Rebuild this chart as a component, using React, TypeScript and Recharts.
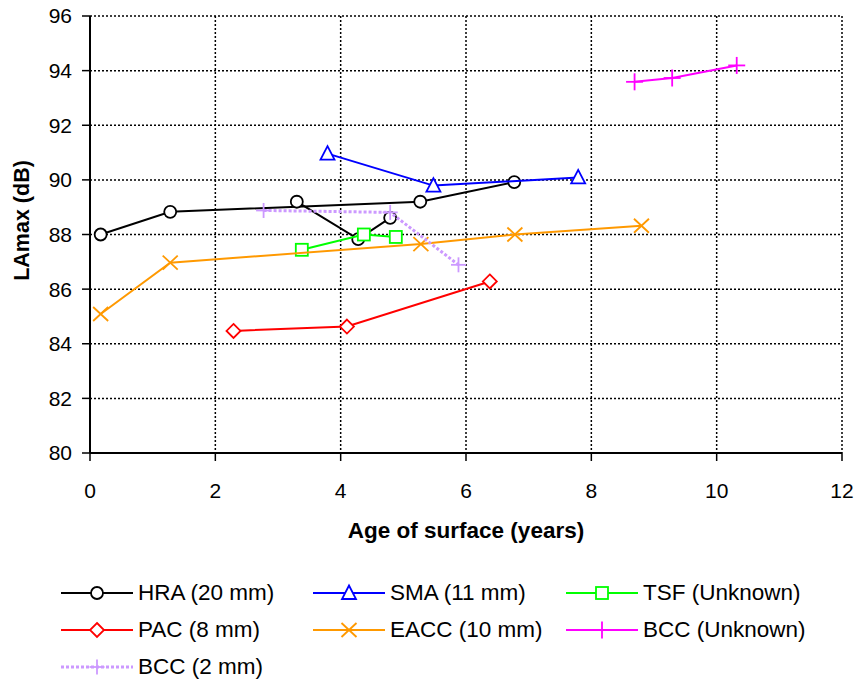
import React from 'react';
import { ScatterChart, Scatter, XAxis, YAxis, CartesianGrid } from 'recharts';

const xTicks = [0, 2, 4, 6, 8, 10, 12];
const yTicks = [80, 82, 84, 86, 88, 90, 92, 94, 96];

const hraMain = [
  { x: 0.17, y: 88.0 },
  { x: 1.28, y: 88.83 },
  { x: 5.27, y: 89.2 },
  { x: 6.77, y: 89.92 },
];
const hraBranch = [
  { x: 3.3, y: 89.2 },
  { x: 4.28, y: 87.83 },
  { x: 4.79, y: 88.61 },
];
const sma = [
  { x: 3.79, y: 90.96 },
  { x: 5.48, y: 89.79 },
  { x: 7.79, y: 90.09 },
];
const tsf = [
  { x: 3.38, y: 87.44 },
  { x: 4.37, y: 88.0 },
  { x: 4.88, y: 87.91 },
];
const pac = [
  { x: 2.29, y: 84.47 },
  { x: 4.1, y: 84.63 },
  { x: 6.38, y: 86.28 },
];
const eacc = [
  { x: 0.17, y: 85.09 },
  { x: 1.28, y: 86.97 },
  { x: 5.28, y: 87.65 },
  { x: 6.78, y: 88.0 },
  { x: 8.8, y: 88.32 },
];
const bccUnknown = [
  { x: 8.69, y: 93.59 },
  { x: 9.29, y: 93.73 },
  { x: 10.32, y: 94.19 },
];
const bcc2mm = [
  { x: 2.77, y: 88.88 },
  { x: 4.79, y: 88.81 },
  { x: 5.88, y: 86.89 },
];

const FONT = '"Liberation Sans", Arial, sans-serif';

const C_HRA = '#000000';
const C_SMA = '#0000FF';
const C_TSF = '#00FF00';
const C_PAC = '#FF0000';
const C_EACC = '#FF9900';
const C_BCC = '#FF00FF';
const C_BCC2 = '#CC99FF';

type Mk = (cx: number, cy: number) => React.ReactElement;

const circleMk = (color: string): Mk => (cx, cy) => (
  <circle cx={cx} cy={cy} r={6} fill="#fff" stroke={color} strokeWidth={1.8} />
);
const triMk = (color: string): Mk => (cx, cy) => (
  <polygon
    points={`${cx},${cy - 7.5} ${cx + 7},${cy + 6} ${cx - 7},${cy + 6}`}
    fill="#fff"
    stroke={color}
    strokeWidth={1.8}
  />
);
const sqMk = (color: string): Mk => (cx, cy) => (
  <rect x={cx - 6} y={cy - 6} width={12} height={12} fill="#fff" stroke={color} strokeWidth={1.8} />
);
const diaMk = (color: string): Mk => (cx, cy) => (
  <polygon
    points={`${cx},${cy - 7} ${cx + 7},${cy} ${cx},${cy + 7} ${cx - 7},${cy}`}
    fill="#fff"
    stroke={color}
    strokeWidth={1.8}
  />
);
const xMk = (color: string): Mk => (cx, cy) => (
  <g stroke={color} strokeWidth={1.8}>
    <line x1={cx - 7.5} y1={cy - 7} x2={cx + 7.5} y2={cy + 7} />
    <line x1={cx - 7.5} y1={cy + 7} x2={cx + 7.5} y2={cy - 7} />
  </g>
);
const plusMk = (color: string, s: number): Mk => (cx, cy) => (
  <g stroke={color} strokeWidth={1.8}>
    <line x1={cx - s} y1={cy} x2={cx + s} y2={cy} />
    <line x1={cx} y1={cy - s} x2={cx} y2={cy + s} />
  </g>
);

interface SeriesDef {
  name: string;
  color: string;
  dash?: string;
  marker: Mk;
}

const legendItems: SeriesDef[] = [
  { name: 'HRA (20 mm)', color: C_HRA, marker: circleMk(C_HRA) },
  { name: 'SMA (11 mm)', color: C_SMA, marker: triMk(C_SMA) },
  { name: 'TSF (Unknown)', color: C_TSF, marker: sqMk(C_TSF) },
  { name: 'PAC (8 mm)', color: C_PAC, marker: diaMk(C_PAC) },
  { name: 'EACC (10 mm)', color: C_EACC, marker: xMk(C_EACC) },
  { name: 'BCC (Unknown)', color: C_BCC, marker: plusMk(C_BCC, 8.5) },
  { name: 'BCC (2 mm)', color: C_BCC2, dash: '3 2', marker: plusMk(C_BCC2, 7.5) },
];

const shapeOf = (mk: Mk) => (p: any) => mk(p.cx, p.cy);

const YLabel = (props: any) => {
  const vb = props.viewBox || { x: 0, y: 0, width: 0, height: 0 };
  const cx = vb.x + 22;
  const cy = vb.y + vb.height / 2 - 14;
  return (
    <text
      x={cx}
      y={cy}
      transform={`rotate(-90, ${cx}, ${cy})`}
      textAnchor="middle"
      dominantBaseline="central"
      fontFamily={FONT}
      fontWeight="bold"
      fontSize={21.5}
      fill="#000"
    >
      LAmax (dB)
    </text>
  );
};

export default function App() {
  const tickStyle = { fontFamily: FONT, fontSize: 21, fill: '#000' };
  return (
    <div style={{ position: 'absolute', left: 0, top: 0, width: 858, height: 679, background: '#fff' }}>
      <ScatterChart
        width={858}
        height={679}
        margin={{ top: 16, right: 16, left: 0, bottom: 126 }}
      >
        <CartesianGrid stroke="#000" strokeDasharray="2 2" strokeWidth={1.5} />
        <XAxis
          type="number"
          dataKey="x"
          domain={[0, 12]}
          ticks={xTicks}
          allowDataOverflow
          height={100}
          tickSize={8}
          tickMargin={22}
          axisLine={{ stroke: '#000', strokeWidth: 2 }}
          tickLine={{ stroke: '#000', strokeWidth: 1.5 }}
          tick={tickStyle}
          label={{
            value: 'Age of surface (years)',
            position: 'insideBottom',
            offset: 15,
            style: { fontFamily: FONT, fontWeight: 'bold', fontSize: 22.5, fill: '#000' },
          }}
        />
        <YAxis
          type="number"
          dataKey="y"
          domain={[80, 96]}
          ticks={yTicks}
          allowDataOverflow
          width={90}
          tickSize={8}
          tickMargin={10}
          axisLine={{ stroke: '#000', strokeWidth: 2 }}
          tickLine={{ stroke: '#000', strokeWidth: 1.5 }}
          tick={tickStyle}
          label={<YLabel />}
        />
        <Scatter
          name="HRA (20 mm)"
          data={hraMain}
          line={{ stroke: C_HRA, strokeWidth: 2 }}
          shape={shapeOf(circleMk(C_HRA))}
          isAnimationActive={false}
        />
        <Scatter
          name="HRA (20 mm) b"
          data={hraBranch}
          line={{ stroke: C_HRA, strokeWidth: 2 }}
          shape={shapeOf(circleMk(C_HRA))}
          isAnimationActive={false}
          legendType="none"
        />
        <Scatter
          name="SMA (11 mm)"
          data={sma}
          line={{ stroke: C_SMA, strokeWidth: 2 }}
          shape={shapeOf(triMk(C_SMA))}
          isAnimationActive={false}
        />
        <Scatter
          name="TSF (Unknown)"
          data={tsf}
          line={{ stroke: C_TSF, strokeWidth: 2 }}
          shape={shapeOf(sqMk(C_TSF))}
          isAnimationActive={false}
        />
        <Scatter
          name="PAC (8 mm)"
          data={pac}
          line={{ stroke: C_PAC, strokeWidth: 2 }}
          shape={shapeOf(diaMk(C_PAC))}
          isAnimationActive={false}
        />
        <Scatter
          name="EACC (10 mm)"
          data={eacc}
          line={{ stroke: C_EACC, strokeWidth: 2 }}
          shape={shapeOf(xMk(C_EACC))}
          isAnimationActive={false}
        />
        <Scatter
          name="BCC (Unknown)"
          data={bccUnknown}
          line={{ stroke: C_BCC, strokeWidth: 2 }}
          shape={shapeOf(plusMk(C_BCC, 8.5))}
          isAnimationActive={false}
        />
        <Scatter
          name="BCC (2 mm)"
          data={bcc2mm}
          line={{ stroke: C_BCC2, strokeWidth: 3, strokeDasharray: '3 2' }}
          shape={shapeOf(plusMk(C_BCC2, 7.5))}
          isAnimationActive={false}
        />
      </ScatterChart>
      <div
        style={{
          position: 'absolute',
          left: 60,
          top: 574,
          display: 'grid',
          gridTemplateColumns: '252px 253px 260px',
          gridAutoRows: '37px',
          fontFamily: FONT,
          fontSize: 22.5,
          color: '#000',
        }}
      >
        {legendItems.map((it) => (
          <div key={it.name} style={{ display: 'flex', alignItems: 'center', whiteSpace: 'nowrap' }}>
            <svg width={74} height={20} style={{ flex: 'none' }}>
              <line
                x1={1}
                y1={10}
                x2={73}
                y2={10}
                stroke={it.color}
                strokeWidth={it.dash ? 3 : 2}
                strokeDasharray={it.dash}
              />
              {it.marker(37, 10)}
            </svg>
            <span style={{ marginLeft: 4 }}>{it.name}</span>
          </div>
        ))}
      </div>
    </div>
  );
}
